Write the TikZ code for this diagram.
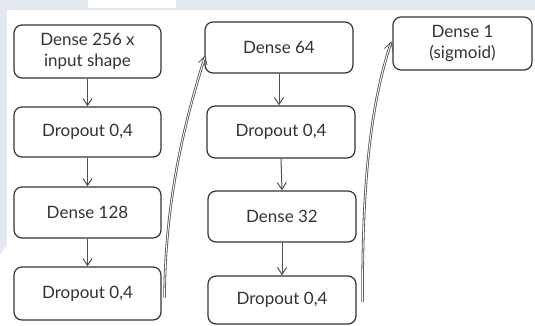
\documentclass[tikz,border=0pt]{standalone}
\usepackage{fontspec}
\setmainfont{Lato}
\usetikzlibrary{arrows.meta,calc}
\definecolor{pagebg}{HTML}{E4E9F1}
\definecolor{ink}{HTML}{333333}
\definecolor{wire}{HTML}{505050}
\tikzset{
  layer/.style={draw=ink, line width=1.2pt, rounded corners=8pt, fill=white,
    text=ink, font=\fontsize{17}{21}\selectfont, align=center, inner sep=0pt},
  flow/.style={draw=wire, line width=1pt,
    -{Straight Barb[length=7pt,width=9pt,line width=1pt]}},
  skip/.style={draw=wire, line width=0.8pt, double=white, double distance=0.9pt,
    -{Straight Barb[length=8pt,width=9pt,line width=0.8pt]}},
}
\begin{document}
\begin{tikzpicture}[x=1pt,y=-1pt]
  % canvas
  \useasboundingbox (0,0) rectangle (535,325);
  \fill[pagebg] (0,0) rectangle (535,325);
  \fill[white] (7,10) -- (535,10) -- (535,325) -- (0,325) -- (0,255) -- (7,245) -- cycle;
  \fill[white] (88,0) rectangle (176,8);

  % first column
  \node[layer, minimum width=147pt, minimum height=53pt] (d256) at (87.5,51.5) {Dense 256 x\\input shape};
  \node[layer, minimum width=147pt, minimum height=50pt] (dr1) at (87.5,132) {Dropout 0,4};
  \node[layer, minimum width=147pt, minimum height=51pt] (d128) at (87.5,212.5) {Dense 128};
  \node[layer, minimum width=147pt, minimum height=53pt] (dr2) at (87.5,293.5) {Dropout 0,4};

  % second column
  \node[layer, minimum width=148pt, minimum height=51pt] (d64) at (279,47.5) {Dense 64};
  \node[layer, minimum width=148pt, minimum height=52pt] (dr3) at (281,132) {Dropout 0,4};
  \node[layer, minimum width=148pt, minimum height=51pt] (d32) at (282,216.5) {Dense 32};
  \node[layer, minimum width=148pt, minimum height=48pt] (dr4) at (282,300) {Dropout 0,4};

  % output
  \node[layer, minimum width=139pt, minimum height=53pt] (d1) at (462.5,43.5) {Dense 1\\(sigmoid)};

  % vertical flow inside the columns
  \draw[flow] (d256.south) -- (dr1.north);
  \draw[flow] (dr1.south) -- (d128.north);
  \draw[flow] (d128.south) -- (dr2.north);
  \draw[flow] (d64.south) -- (dr3.north -| d64.south);
  \draw[flow] (dr3.south) -- (d32.north);
  \draw[flow] (d32.south) -- (dr4.north -| d32.south);

  % column hand-offs
  \coordinate (c1) at ($(dr2.east)+(3,4)$);
  \coordinate (c2) at ($(dr4.east)+(6,2)$);
  \draw[skip] (c1) .. controls (165,200) and (185,120) .. ($(d64.west)+(1,8)$);
  \draw[skip] (c2) .. controls (362,175) and (372,100) .. ($(d1.west)+(-1,-2)$);
\end{tikzpicture}
\end{document}
